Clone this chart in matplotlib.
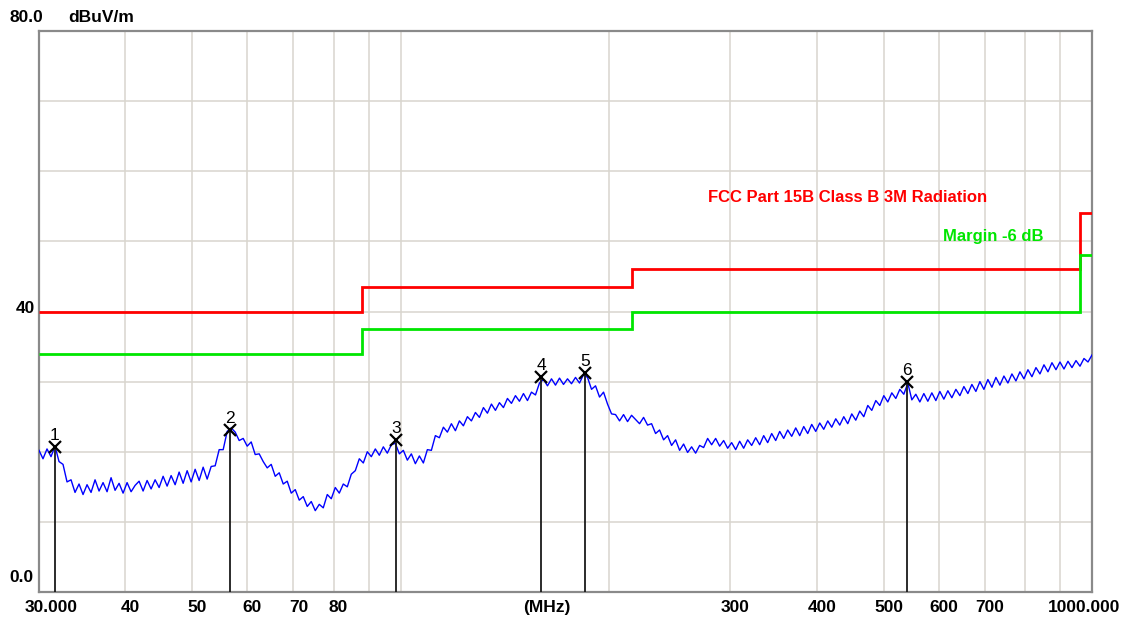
import numpy as np
import matplotlib
matplotlib.use("Agg")
import matplotlib.pyplot as plt
from matplotlib.ticker import NullLocator

# ---------------- data ----------------
# measured trace (dBuV/m), log-spaced sweep from 30 MHz to 1000 MHz
trace_levels = [
    20.2, 19.0, 20.4, 19.3, 20.8, 18.6, 18.2, 15.7, 16.0, 14.2,
    15.4, 13.9, 15.3, 14.2, 16.0, 14.4, 15.6, 14.3, 16.3, 14.5,
    15.5, 14.1, 15.6, 14.3, 15.2, 15.8, 14.4, 15.9, 14.7, 16.0,
    14.9, 16.5, 15.1, 16.6, 15.3, 17.1, 15.5, 17.3, 15.7, 17.5,
    15.9, 17.8, 16.1, 17.9, 18.0, 20.3, 20.3, 22.9, 23.4, 22.8,
    21.6, 21.9, 20.8, 21.4, 19.6, 19.7, 18.6, 17.7, 18.2, 16.5,
    17.0, 15.4, 15.8, 14.1, 14.6, 13.1, 13.6, 12.2, 12.9, 11.6,
    12.5, 12.0, 13.9, 13.3, 14.9, 14.1, 15.4, 15.0, 16.8, 17.3,
    19.0, 18.4, 20.0, 19.3, 20.4, 19.5, 20.7, 19.8, 21.0, 21.2,
    19.7, 20.2, 18.8, 19.7, 18.3, 19.4, 18.4, 20.3, 20.2, 22.3,
    22.0, 23.5, 22.8, 24.0, 23.0, 24.4, 23.7, 25.0, 24.4, 25.6,
    24.9, 26.3, 25.5, 26.8, 25.9, 27.0, 26.3, 27.6, 26.9, 28.0,
    27.2, 28.3, 27.3, 28.5, 28.1, 29.8, 30.3, 29.4, 30.4, 29.5,
    30.5, 29.6, 30.4, 29.7, 30.6, 29.8, 31.0, 30.6, 28.9, 29.4,
    27.8, 28.5, 26.8, 25.4, 25.3, 24.4, 25.3, 24.3, 25.2, 24.6,
    24.0, 24.9, 23.8, 24.0, 22.6, 23.1, 21.7, 22.3, 20.9, 21.7,
    20.2, 21.1, 19.9, 20.7, 19.8, 20.9, 20.6, 21.9, 21.0, 21.9,
    20.8, 21.6, 20.5, 21.3, 20.3, 21.5, 20.5, 21.7, 20.9, 22.0,
    21.0, 22.3, 21.3, 22.6, 21.6, 22.9, 21.9, 23.1, 22.2, 23.4,
    22.3, 23.6, 22.6, 23.9, 22.9, 24.1, 23.2, 24.4, 23.5, 24.7,
    23.8, 25.0, 24.0, 25.4, 24.5, 25.8, 25.0, 26.6, 25.9, 27.3,
    26.6, 28.0, 27.1, 28.4, 27.6, 28.9, 28.2, 29.8, 27.4, 28.2,
    27.1, 28.3, 27.2, 28.4, 27.3, 28.6, 27.5, 28.7, 27.7, 28.9,
    28.0, 29.3, 28.3, 29.6, 28.6, 30.0, 28.9, 30.3, 29.2, 30.6,
    29.5, 30.8, 29.8, 31.1, 30.1, 31.4, 30.4, 31.7, 30.7, 32.0,
    31.1, 32.4, 31.4, 32.7, 31.7, 32.8, 31.8, 32.9, 32.0, 33.0,
    32.2, 33.3, 32.8, 33.8,
]
sweep_start, sweep_stop = 30.0, 1000.0

# FCC Part 15B Class B (3 m) limit steps
limit_edges = [30, 88, 216, 960, 1000]
limit_levels = [40.0, 43.5, 46.0, 54.0]
margin_db = 6.0

# peak markers
marker_ids = ["1", "2", "3", "4", "5", "6"]
marker_freqs = [31.6, 56.7, 98.4, 159.8, 184.8, 540.5]
marker_levels = [20.7, 23.1, 21.7, 30.6, 31.3, 30.0]

# axis tick labels
tick_freqs = [30, 40, 50, 60, 70, 80, 300, 400, 500, 600, 700, 1000]
tick_labels = ["30.000", "40", "50", "60", "70", "80", "300", "400", "500",
               "600", "700", "1000.000"]
grid_freqs = [40, 50, 60, 70, 80, 90, 100, 200, 300, 400, 500, 600, 700, 800, 900]
grid_levels = [10, 20, 30, 40, 50, 60, 70]

# ---------------- figure ----------------
W, H = 1126, 619
fig = plt.figure(figsize=(W / 100, H / 100), dpi=100)
fig.patch.set_facecolor("white")
ax = fig.add_axes([39 / W, 27 / H, 1053 / W, 561 / H])
ax.set_xscale("log")
ax.set_xlim(sweep_start, sweep_stop)
ax.set_ylim(0, 80)
ax.xaxis.set_major_locator(NullLocator())
ax.xaxis.set_minor_locator(NullLocator())
ax.yaxis.set_major_locator(NullLocator())
ax.yaxis.set_minor_locator(NullLocator())
for sp in ax.spines.values():
    sp.set_color("#8a8a8a")
    sp.set_linewidth(1.6)

grid_c = "#d8d5ce"
for f in grid_freqs:
    ax.axvline(f, color=grid_c, lw=1.1, zorder=0)
for g in grid_levels:
    ax.axhline(g, color=grid_c, lw=1.1, zorder=0)

# limit and margin lines
ax.stairs(limit_levels, limit_edges, baseline=None, color="#ff0000", lw=2.0, zorder=3)
ax.stairs([v - margin_db for v in limit_levels], limit_edges, baseline=None,
          color="#00e600", lw=2.0, zorder=3)

# trace
freqs = np.geomspace(sweep_start, sweep_stop, len(trace_levels))
ax.plot(freqs, trace_levels, color="#0000ff", lw=1.0, zorder=4)

# markers
FONT = "Liberation Sans"
for mid, mf, ml in zip(marker_ids, marker_freqs, marker_levels):
    ax.plot([mf, mf], [0, ml], color="#1a1a1a", lw=1.3, zorder=5)
    ax.plot([mf], [ml], marker="x", color="black", ms=8, mew=1.6, zorder=6)
    ax.annotate(mid, xy=(mf, ml), xytext=(0, 7), textcoords="offset pixels",
                ha="center", va="baseline", fontsize=12.5, family=FONT, color="black")

# x tick labels
for f, lab in zip(tick_freqs, tick_labels):
    dx = 5
    if lab == "30.000":
        dx = 12.5
    elif lab == "1000.000":
        dx = -8
    ax.annotate(lab, xy=(f, 0), xycoords=("data", "axes fraction"),
                xytext=(dx, -20), textcoords="offset pixels",
                ha="center", va="baseline", fontsize=12.5, family=FONT,
                fontweight="bold", color="black", annotation_clip=False)


def ftext(px, py, s, **kw):
    fig.text(px / W, 1 - py / H, s, family=FONT, **kw)


ftext(547, 612, "(MHz)", ha="center", va="baseline", fontsize=12.5, fontweight="bold")
ftext(10, 22, "80.0", ha="left", va="baseline", fontsize=12.5, fontweight="bold")
ftext(68, 22, "dBuV/m", ha="left", va="baseline", fontsize=12.5, fontweight="bold")
ftext(35, 313, "40", ha="right", va="baseline", fontsize=12.5, fontweight="bold")
ftext(34, 582, "0.0", ha="right", va="baseline", fontsize=12.5, fontweight="bold")

ftext(708, 202, "FCC Part 15B Class B 3M Radiation", ha="left", va="baseline",
      fontsize=12, fontweight="bold", color="#ff0000")
ftext(943, 241, "Margin -6 dB", ha="left", va="baseline",
      fontsize=12, fontweight="bold", color="#00e600")

fig.savefig("out.png", dpi=100, facecolor="white")
